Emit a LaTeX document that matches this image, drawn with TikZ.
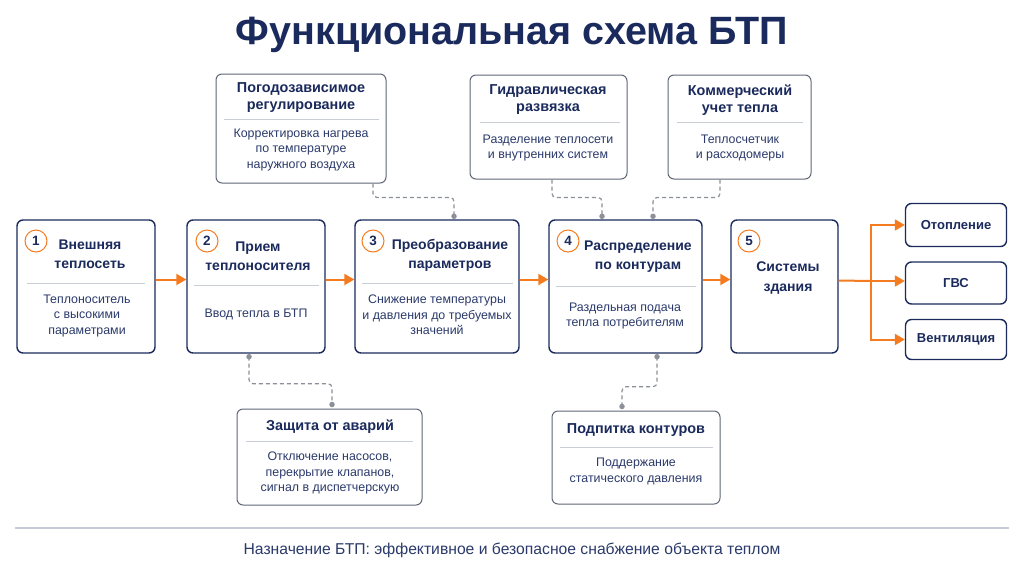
\documentclass[tikz,border=0pt]{standalone}
\usepackage{fontspec}
\setmainfont{Liberation Sans}
\usetikzlibrary{arrows.meta,calc}
\definecolor{navy}{HTML}{1B2A5C}
\definecolor{bodyc}{HTML}{2B3A6B}
\definecolor{orng}{HTML}{F47B20}
\definecolor{dgray}{HTML}{8C9099}
\definecolor{sepc}{HTML}{C9CDD5}
\definecolor{gbord}{HTML}{5F6675}
\definecolor{footl}{HTML}{C5CAD6}
\begin{document}
\begin{tikzpicture}[x=1pt,y=-1pt,
 mainbox/.style={draw=navy, line width=1.4pt, rounded corners=6pt, fill=white, inner sep=0},
 sidebox/.style={draw=gbord, line width=1pt, rounded corners=6pt, fill=white, inner sep=0},
 ttl/.style={text=navy, font=\fontsize{14}{19.5}\selectfont\bfseries, align=center, inner sep=0},
 sttl/.style={text=navy, font=\fontsize{14.4}{17}\selectfont\bfseries, align=center, inner sep=0},
 rttl/.style={text=navy, font=\fontsize{13}{15}\selectfont\bfseries, align=center, inner sep=0},
 bdy/.style={text=bodyc, font=\fontsize{12.4}{15.5}\selectfont, align=center, inner sep=0},
 sepline/.style={draw=sepc, line width=0.8pt},
 num/.style={circle, draw=orng, line width=1pt, minimum size=22pt, inner sep=0, text=navy, font=\fontsize{13.5}{13.5}\selectfont\bfseries},
 flow/.style={draw=orng, line width=2pt, -{Triangle[length=10pt,width=11pt]}},
 dashcon/.style={draw=dgray, line width=1.2pt, dash pattern=on 4pt off 3pt, rounded corners=4pt},
 dotn/.style={circle, fill=dgray, minimum size=5.5pt, inner sep=0}
]
\useasboundingbox (0,0) rectangle (1024,576);
\fill[white] (0,0) rectangle (1024,576);

\node[text=navy, font=\fontsize{39.5}{44}\selectfont\bfseries] (title) at (512,35) {Функциональная схема БТП};

% main boxes
\node[mainbox, minimum width=138pt, minimum height=133pt] (b1) at (86,286.5) {};
\node[mainbox, minimum width=138pt, minimum height=133pt] (b2) at (256,286.5) {};
\node[mainbox, minimum width=164pt, minimum height=133pt] (b3) at (437,286.5) {};
\node[mainbox, minimum width=153pt, minimum height=133pt] (b4) at (625.5,286.5) {};
\node[mainbox, minimum width=107pt, minimum height=133pt] (b5) at (784.5,286.5) {};

\node[mainbox, minimum width=101pt, minimum height=43pt] (r1) at (956,225) {};
\node[mainbox, minimum width=101pt, minimum height=42pt] (r2) at (956,283) {};
\node[mainbox, minimum width=101pt, minimum height=40pt] (r3) at (956,339.5) {};

% side boxes
\node[sidebox, minimum width=170pt, minimum height=109pt] (t1) at (301,128.5) {};
\node[sidebox, minimum width=157pt, minimum height=104pt] (t2) at (548.5,127) {};
\node[sidebox, minimum width=143pt, minimum height=104pt] (t3) at (739.5,127) {};
\node[sidebox, minimum width=185pt, minimum height=96pt] (d1) at (329.5,457) {};
\node[sidebox, minimum width=168pt, minimum height=93pt] (d2) at (636,457.5) {};

% numbers
\node[num] (n1) at (36,241) {1};
\node[num] (n2) at (207,241) {2};
\node[num] (n3) at (373,241) {3};
\node[num] (n4) at (568,241) {4};
\node[num] (n5) at (749,241) {5};

% main texts
\node[ttl] (b1t) at (90,254) {Внешняя\\теплосеть};
\node[bdy] (b1b) at (87,316) {Теплоноситель\\с высокими\\параметрами};
\node[ttl] (b2t) at (258,256) {Прием\\теплоносителя};
\node[bdy] (b2b) at (256,314) {Ввод тепла в БТП};
\node[ttl] (b3t) at (450,255.5) {Преобразование\\параметров};
\node[bdy] (b3b) at (437,315) {Снижение температуры\\и давления до требуемых\\значений};
\node[ttl] (b4t) at (638,256.5) {Распределение\\по контурам};
\node[bdy] (b4b) at (625,316) {Раздельная подача\\тепла потребителям};
\node[ttl] (b5t) at (788,278) {Системы\\здания};

\node[rttl] (r1t) at (r1) {Отопление};
\node[rttl] (r2t) at (r2) {ГВС};
\node[rttl] (r3t) at (r3) {Вентиляция};

\node[sttl] (t1t) at (301,97.5) {Погодозависимое\\регулирование};
\node[bdy] (t1b) at (301,150) {Корректировка нагрева\\по температуре\\наружного воздуха};
\node[sttl] (t2t) at (548,100) {Гидравлическая\\развязка};
\node[bdy] (t2b) at (548,148) {Разделение теплосети\\и внутренних систем};
\node[sttl] (t3t) at (740,100) {Коммерческий\\учет тепла};
\node[bdy] (t3b) at (740,148) {Теплосчетчик\\и расходомеры};
\node[sttl] (d1t) at (330,427) {Защита от аварий};
\node[bdy] (d1b) at (330,473) {Отключение насосов,\\перекрытие клапанов,\\сигнал в диспетчерскую};
\node[sttl] (d2t) at (636,430) {Подпитка контуров};
\node[bdy] (d2b) at (636,471.5) {Поддержание\\статического давления};

% separators
\draw[sepline] (27,283) -- (145,283);
\draw[sepline] (194,285) -- (319,285);
\draw[sepline] (362,283) -- (513,283);
\draw[sepline] (556,286) -- (696,286);
\draw[sepline] (224,119) -- (379,119);
\draw[sepline] (480,122) -- (620,122);
\draw[sepline] (677,122) -- (803,122);
\draw[sepline] (246,441) -- (413,441);
\draw[sepline] (560,447) -- (713,447);

% flow arrows
\draw[flow] ([yshift=7pt]b1.east) -- ([yshift=7pt]b2.west);
\draw[flow] ([yshift=7pt]b2.east) -- ([yshift=7pt]b3.west);
\draw[flow] ([yshift=7pt]b3.east) -- ([yshift=7pt]b4.west);
\draw[flow] ([yshift=7pt]b4.east) -- ([yshift=7pt]b5.west);
\coordinate (j) at (871,281);
\draw[draw=orng, line width=2pt] ([yshift=6pt]b5.east) -- (j);
\draw[flow] (j) |- (r1.west);
\draw[flow] (j) -- (r2.west |- j);
\draw[flow] (j) |- (r3.west);

% dashed connectors
\draw[dashcon] ([xshift=72pt]t1.south) -- ++(0,14) -| ([xshift=17pt,yshift=3pt]b3.north);
\node[dotn] at ([xshift=17pt,yshift=3pt]b3.north) {};
\draw[dashcon] ([xshift=3.5pt]t2.south) -- ++(0,18) -| ([xshift=-23.5pt,yshift=3pt]b4.north);
\node[dotn] at ([xshift=-23.5pt,yshift=3pt]b4.north) {};
\draw[dashcon] ([xshift=-19.5pt]t3.south) -- ++(0,18) -| ([xshift=27.5pt,yshift=3pt]b4.north);
\node[dotn] at ([xshift=27.5pt,yshift=3pt]b4.north) {};
\draw[dashcon] ([xshift=-7pt,yshift=-3pt]b2.south) -- ++(0,27) -| ([xshift=2.5pt,yshift=4pt]d1.north);
\node[dotn] at ([xshift=-7pt,yshift=-3pt]b2.south) {};
\node[dotn] at ([xshift=2.5pt,yshift=4pt]d1.north) {};
\draw[dashcon] ([xshift=31.5pt,yshift=-3pt]b4.south) -- ++(0,30) -| ([xshift=-14pt,yshift=4pt]d2.north);
\node[dotn] at ([xshift=31.5pt,yshift=-3pt]b4.south) {};
\node[dotn] at ([xshift=-14pt,yshift=4pt]d2.north) {};

% footer
\coordinate (fl) at (15,528);
\coordinate (fr) at (1009,528);
\draw[footl, line width=1.2pt] (fl) -- (fr);
\node[text=bodyc, font=\fontsize{15.7}{18}\selectfont] (foot) at (512,550) {Назначение БТП: эффективное и безопасное снабжение объекта теплом};
\end{tikzpicture}
\end{document}
